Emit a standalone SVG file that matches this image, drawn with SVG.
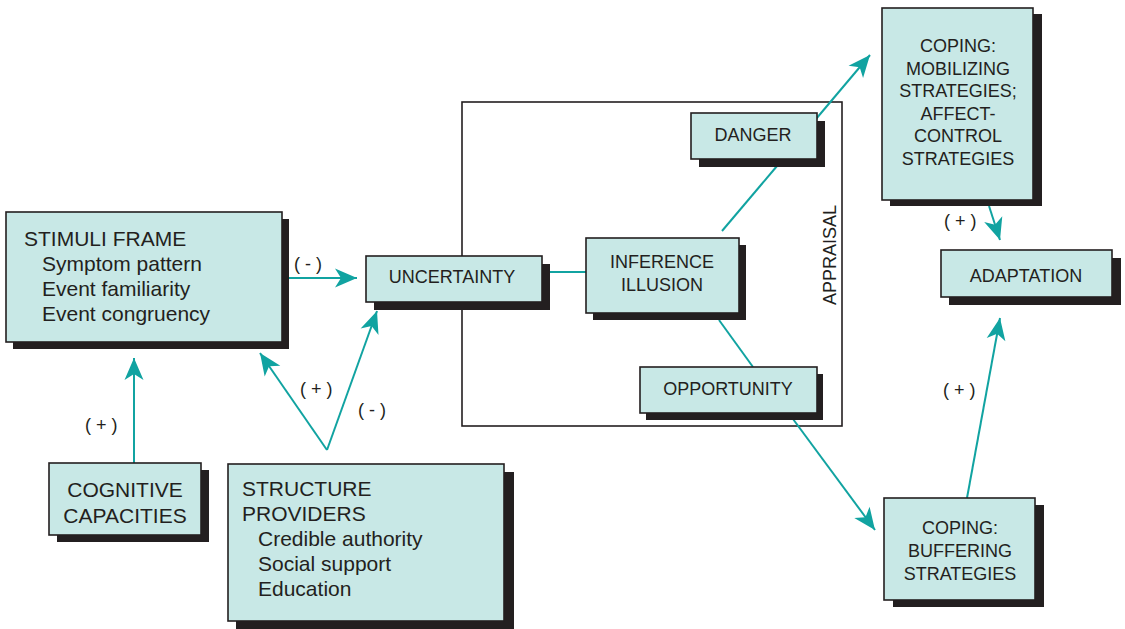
<svg xmlns="http://www.w3.org/2000/svg" width="1125" height="629" viewBox="0 0 1125 629">
<defs>
<style>
.box{fill:#c8e8e6;stroke:#231f20;stroke-width:1.6}
.sh{fill:#231f20}
.t{font-family:"Liberation Sans",Arial,sans-serif;fill:#231f20}
.big{font-size:21px}
.mid{font-size:18px}
.lab{font-size:18px}
.c{text-anchor:middle}
.con{stroke:#11a3a1;stroke-width:2;fill:none}
</style>
<marker id="ah" markerUnits="userSpaceOnUse" viewBox="-1 -11 25 22" refX="22" refY="0" markerWidth="25" markerHeight="22" orient="auto">
<path d="M0,-9.5 L22,0 L0,9.5 L6,0 Z" fill="#11a3a1"/>
</marker>
</defs>
<rect width="1125" height="629" fill="#ffffff"/>

<g id="appraisal">
<rect x="462" y="102" width="380" height="324" fill="none" stroke="#231f20" stroke-width="1.6"/>
<text class="t mid c" transform="translate(836,255) rotate(-90)">APPRAISAL</text>
</g>

<g id="connectors">
<line class="con" x1="289" y1="278" x2="357" y2="278" marker-end="url(#ah)"/>
<line class="con" x1="550" y1="272" x2="586" y2="272"/>
<line class="con" x1="777" y1="166" x2="722" y2="231"/>
<line class="con" x1="719" y1="320" x2="753" y2="367"/>
<line class="con" x1="816" y1="119" x2="870" y2="55" marker-end="url(#ah)"/>
<line class="con" x1="989" y1="206" x2="1000" y2="240" marker-end="url(#ah)"/>
<line class="con" x1="793" y1="419" x2="875" y2="530" marker-end="url(#ah)"/>
<line class="con" x1="967" y1="498" x2="1000" y2="318" marker-end="url(#ah)"/>
<line class="con" x1="134" y1="463" x2="134" y2="358" marker-end="url(#ah)"/>
<polyline class="con" points="327,450 260,353" marker-end="url(#ah)"/>
<polyline class="con" points="327,450 377,311" marker-end="url(#ah)"/>
<text class="t lab" x="294" y="270">( - )</text>
<text class="t lab" x="85" y="431">( + )</text>
<text class="t lab" x="300" y="395">( + )</text>
<text class="t lab" x="358" y="416">( - )</text>
<text class="t lab" x="944" y="227">( + )</text>
<text class="t lab" x="943" y="396">( + )</text>
</g>

<g id="stimuli">
<rect class="sh" x="13" y="219" width="276" height="130"/>
<rect class="box" x="6" y="212" width="276" height="130"/>
<text class="t big" x="24" y="246">STIMULI FRAME</text>
<text class="t big" x="42" y="271">Symptom pattern</text>
<text class="t big" x="42" y="296">Event familiarity</text>
<text class="t big" x="42" y="321">Event congruency</text>
</g>

<g id="uncertainty">
<rect class="sh" x="374" y="264" width="176" height="46"/>
<rect class="box" x="366" y="256" width="176" height="46"/>
<text class="t mid c" x="452" y="283">UNCERTAINTY</text>
</g>

<g id="inference">
<rect class="sh" x="593" y="245" width="153" height="75"/>
<rect class="box" x="586" y="238" width="153" height="75"/>
<text class="t mid c" x="662" y="268">INFERENCE</text>
<text class="t mid c" x="662" y="291">ILLUSION</text>
</g>

<g id="danger">
<rect class="sh" x="699" y="121" width="126" height="46"/>
<rect class="box" x="691" y="113" width="126" height="46"/>
<text class="t mid c" x="753" y="141">DANGER</text>
</g>

<g id="opportunity">
<rect class="sh" x="646" y="374" width="177" height="46"/>
<rect class="box" x="640" y="367" width="177" height="46"/>
<text class="t mid c" x="728" y="395">OPPORTUNITY</text>
</g>

<g id="coping-mobilizing">
<rect class="sh" x="890" y="14" width="152" height="192"/>
<rect class="box" x="882" y="8" width="151" height="192"/>
<text class="t mid c" x="958" y="52">COPING:</text>
<text class="t mid c" x="958" y="75">MOBILIZING</text>
<text class="t mid c" x="958" y="97">STRATEGIES;</text>
<text class="t mid c" x="958" y="120">AFFECT-</text>
<text class="t mid c" x="958" y="142">CONTROL</text>
<text class="t mid c" x="958" y="165">STRATEGIES</text>
</g>

<g id="adaptation">
<rect class="sh" x="949" y="258" width="172" height="47"/>
<rect class="box" x="941" y="250" width="171" height="47"/>
<text class="t mid c" x="1026" y="282">ADAPTATION</text>
</g>

<g id="coping-buffering">
<rect class="sh" x="893" y="505" width="151" height="102"/>
<rect class="box" x="884" y="498" width="151" height="102"/>
<text class="t mid c" x="960" y="534">COPING:</text>
<text class="t mid c" x="960" y="557">BUFFERING</text>
<text class="t mid c" x="960" y="580">STRATEGIES</text>
</g>

<g id="cognitive">
<rect class="sh" x="57" y="470" width="152" height="72"/>
<rect class="box" x="49" y="463" width="152" height="72"/>
<text class="t big c" x="125" y="497">COGNITIVE</text>
<text class="t big c" x="125" y="523">CAPACITIES</text>
</g>

<g id="structure">
<rect class="sh" x="236" y="472" width="278" height="157"/>
<rect class="box" x="228" y="464" width="276" height="157"/>
<text class="t big" x="242" y="496">STRUCTURE</text>
<text class="t big" x="242" y="521">PROVIDERS</text>
<text class="t big" x="258" y="546">Credible authority</text>
<text class="t big" x="258" y="571">Social support</text>
<text class="t big" x="258" y="596">Education</text>
</g>
</svg>
